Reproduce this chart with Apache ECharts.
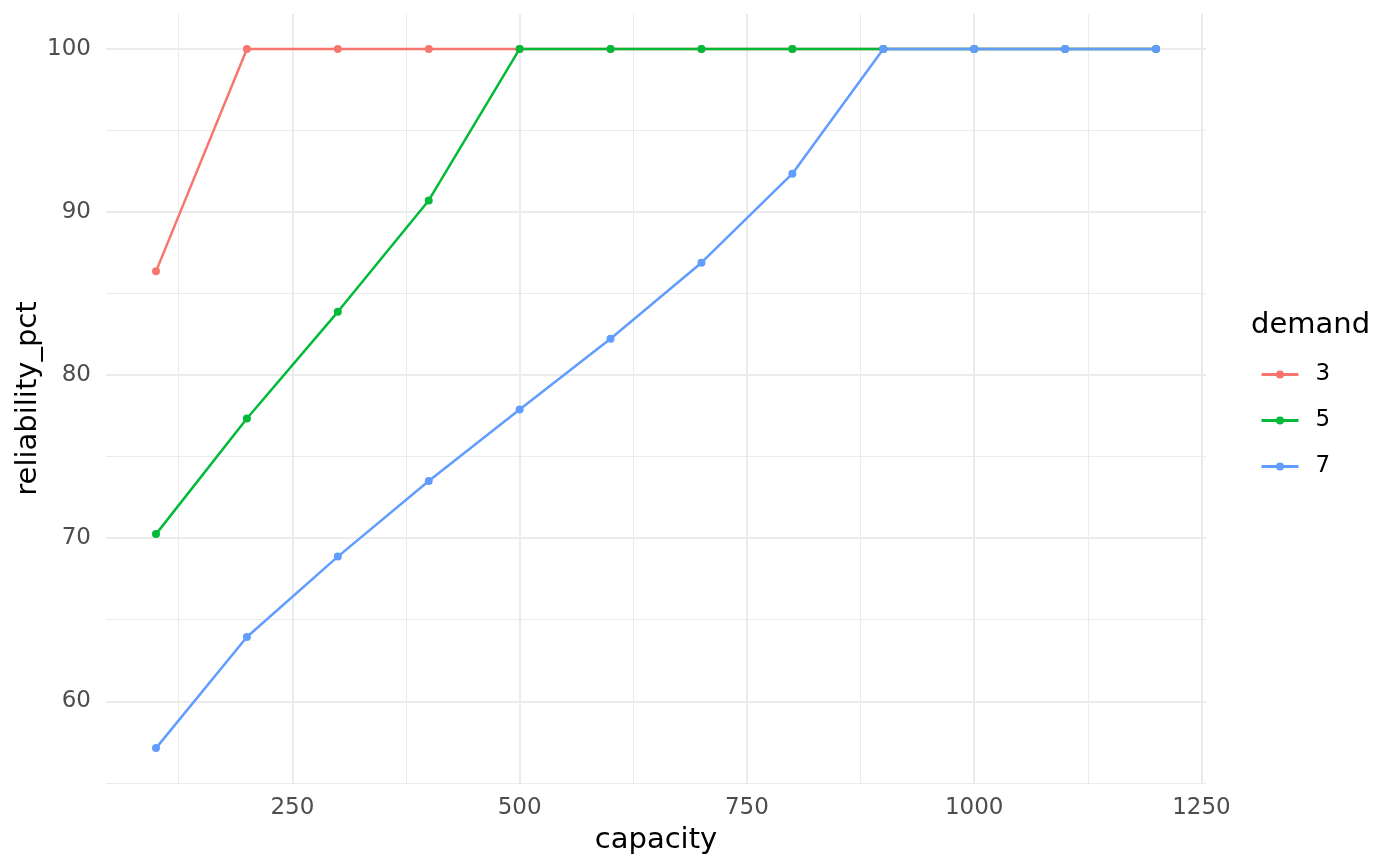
<!DOCTYPE html>
<html>
<head>
<meta charset="utf-8">
<style>
  html, body { margin: 0; padding: 0; background: #ffffff; }
  #chart { width: 1400px; height: 866px; }
</style>
<script src="https://cdn.jsdelivr.net/npm/echarts@6/dist/echarts.min.js"></script>
</head>
<body>
<div id="chart"></div>
<script>
var capacity = [100, 200, 300, 400, 500, 600, 700, 800, 900, 1000, 1100, 1200];
var demandLevels = ["3", "5", "7"];
var demand3 = [86.36, 100, 100, 100, 100, 100, 100, 100, 100, 100, 100, 100];
var demand5 = [70.25, 77.34, 83.88, 90.71, 100, 100, 100, 100, 100, 100, 100, 100];
var demand7 = [57.13, 63.94, 68.87, 73.51, 77.89, 82.23, 86.89, 92.35, 100, 100, 100, 100];
var xMajor = [250, 500, 750, 1000, 1250];
var xMinor = [125, 375, 625, 875, 1125];
var yMajor = [60, 70, 80, 90, 100];
var yMinor = [55, 65, 75, 85, 95];

(function () {
  "use strict";
  var font = "DejaVu Sans";
  var gridColor = "#ebebeb";
  var tickColor = "#4d4d4d";
  var colors = ["#f8766d", "#00ba38", "#619cff"];
  var values = [demand3, demand5, demand7];

  function pairs(ys) {
    return capacity.map(function (x, i) { return [x, ys[i]]; });
  }
  function plain(v) { return String(v); }

  var chart = echarts.init(document.getElementById("chart"), null, { renderer: "canvas" });

  var xBase = { type: "value", min: 45, max: 1255, axisLine: { show: false } };
  var yBase = { type: "value", min: 54.99, max: 102.14, axisLine: { show: false } };

  chart.setOption({
    animation: false,
    backgroundColor: "#ffffff",
    title: {
      text: "demand", left: 1246, top: 306,
      textStyle: { fontFamily: font, fontSize: 29, fontWeight: "normal", color: "#000000" }
    },
    legend: {
      orient: "vertical", left: 1255, top: 358,
      itemWidth: 37, itemHeight: 10, itemGap: 23,
      data: demandLevels,
      lineStyle: { width: 3 },
      textStyle: { fontFamily: font, fontSize: 23, color: "#000000", padding: [0, 0, 0, 12] }
    },
    grid: { left: 106, right: 194, top: 14, bottom: 83 },
    xAxis: [
      Object.assign({}, xBase, {
        name: "capacity", nameLocation: "middle", nameGap: 43,
        nameTextStyle: { fontFamily: font, fontSize: 29, color: "#000000" },
        axisTick: { show: false, customValues: xMajor },
        axisLabel: { customValues: xMajor, margin: 14, formatter: plain, fontFamily: font, fontSize: 23, color: tickColor },
        splitLine: { show: true, lineStyle: { color: gridColor, width: 2 } }
      }),
      Object.assign({}, xBase, {
        position: "bottom",
        axisTick: { show: false, customValues: xMinor },
        axisLabel: { show: false, customValues: xMinor },
        splitLine: { show: true, lineStyle: { color: gridColor, width: 1 } }
      })
    ],
    yAxis: [
      Object.assign({}, yBase, {
        name: "reliability_pct", nameLocation: "middle", nameGap: 63, nameMoveOverlap: false,
        nameTextStyle: { fontFamily: font, fontSize: 29, color: "#000000" },
        axisTick: { show: false, customValues: yMajor },
        axisLabel: { customValues: yMajor, margin: 15, formatter: plain, fontFamily: font, fontSize: 23, color: tickColor },
        splitLine: { show: true, lineStyle: { color: gridColor, width: 2 } }
      }),
      Object.assign({}, yBase, {
        position: "left",
        axisTick: { show: false, customValues: yMinor },
        axisLabel: { show: false, customValues: yMinor },
        splitLine: { show: true, lineStyle: { color: gridColor, width: 1 } }
      })
    ],
    series: demandLevels.map(function (name, i) {
      return {
        name: name, type: "line", xAxisIndex: 0, yAxisIndex: 0,
        data: pairs(values[i]),
        symbol: "circle", symbolSize: 8, showAllSymbol: true,
        lineStyle: { width: 2.5, color: colors[i] },
        itemStyle: { color: colors[i], borderWidth: 0 },
        emphasis: { disabled: true }
      };
    })
  });

  window.addEventListener("resize", function () { chart.resize(); });
})();
</script>
</body>
</html>
